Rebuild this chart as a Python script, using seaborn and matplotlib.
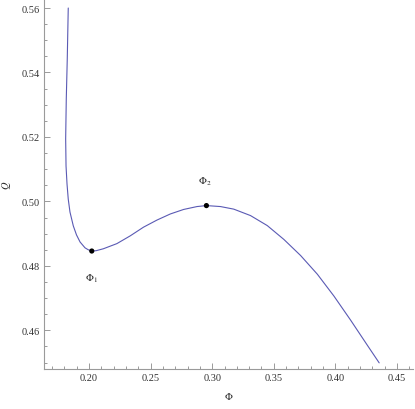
import matplotlib
matplotlib.use('Agg')
import matplotlib.pyplot as plt
from matplotlib.ticker import MultipleLocator, FormatStrFormatter
import pandas as pd
import seaborn as sns

# curve Q(Phi) (parametric: Phi is not monotone near the top)
phi = [0.1831, 0.1823, 0.1815, 0.1810, 0.1813, 0.1821, 0.1831, 0.1845, 0.1872,
       0.1898, 0.1927, 0.1967, 0.1993, 0.2022, 0.2057, 0.2116, 0.2226, 0.2334,
       0.2442, 0.2551, 0.2660, 0.2768, 0.2877, 0.2953, 0.3067, 0.3175, 0.3311,
       0.3447, 0.3582, 0.3718, 0.3854, 0.3989, 0.4125, 0.4261, 0.4356]
q = [0.5600, 0.5442, 0.5318, 0.5194, 0.5110, 0.5054, 0.5007, 0.4967, 0.4924,
     0.4896, 0.4874, 0.4856, 0.4850, 0.4846, 0.4847, 0.4853, 0.4869, 0.4893,
     0.4920, 0.4942, 0.4961, 0.4975, 0.4984, 0.4987, 0.4984, 0.4976, 0.4956,
     0.4925, 0.4882, 0.4832, 0.4774, 0.4706, 0.4631, 0.4553, 0.4499]

# marked extrema
pt_labels = [r'$\Phi_1$', r'$\Phi_2$']
pt_phi = [0.2022, 0.2953]
pt_q = [0.4846, 0.4987]

sns.set_style('white')
plt.rcParams['font.family'] = ['Liberation Serif', 'DejaVu Serif']
plt.rcParams['mathtext.fontset'] = 'stix'

df = pd.DataFrame({'phi': phi, 'q': q})
pts = pd.DataFrame({'phi': pt_phi, 'q': pt_q, 'label': pt_labels})

fig = plt.figure(figsize=(4.15, 4.10), dpi=100)
ax = fig.add_axes([0.106, 0.0976, 0.889, 0.9024])

sns.lineplot(data=df, x='phi', y='q', sort=False, estimator=None,
             color='#5a5ab4', linewidth=0.8, ax=ax)
sns.scatterplot(data=pts, x='phi', y='q', color='black', s=14,
                edgecolor='none', zorder=3, ax=ax)

offsets = [(0, -19), (-1, 18)]
for (_, r), off in zip(pts.iterrows(), offsets):
    ax.annotate(r['label'], (r['phi'], r['q']), xytext=off,
                textcoords='offset points', ha='center', va='center',
                fontsize=7.5, color='#222222')

ax.set_xlim(0.1634, 0.463)
ax.set_ylim(0.448, 0.5628)

ax.xaxis.set_major_locator(MultipleLocator(0.05))
ax.xaxis.set_minor_locator(MultipleLocator(0.01))
ax.yaxis.set_major_locator(MultipleLocator(0.02))
ax.yaxis.set_minor_locator(MultipleLocator(0.005))
ax.xaxis.set_major_formatter(FormatStrFormatter('%.2f'))
ax.yaxis.set_major_formatter(FormatStrFormatter('%.2f'))

ax.set_xlabel(r'$\Phi$', fontsize=7.5, labelpad=6)
ax.set_ylabel(r'$Q$', fontsize=7.5, labelpad=6)

for side in ['top', 'right']:
    ax.spines[side].set_visible(False)
for side in ['left', 'bottom']:
    ax.spines[side].set_color('#9a9a9a')
    ax.spines[side].set_linewidth(0.8)

ax.tick_params(which='both', bottom=True, left=True, top=False, right=False,
               direction='in', color='#8a8a8a', width=0.6,
               labelsize=7.5, labelcolor='#333333')
ax.tick_params(which='major', length=4, pad=3)
ax.tick_params(which='minor', length=2.2)

fig.savefig('out.png', dpi=100)
